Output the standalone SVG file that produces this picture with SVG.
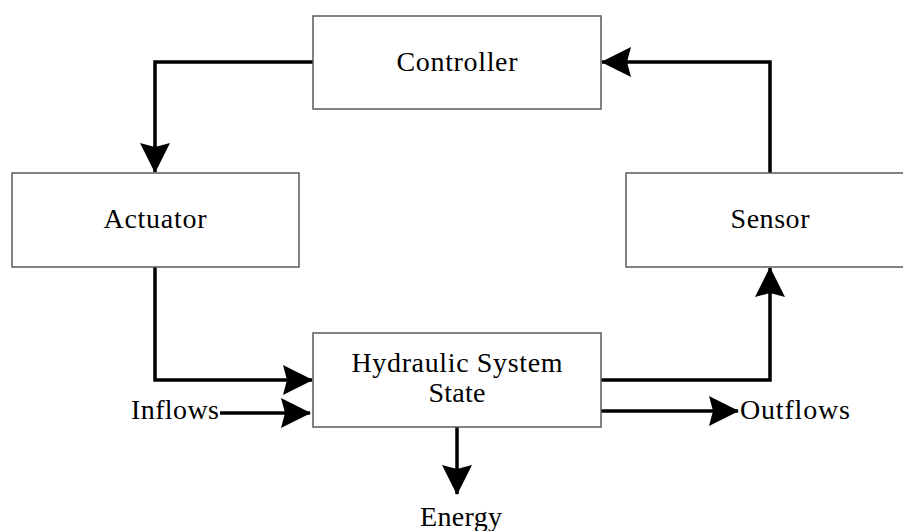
<svg xmlns="http://www.w3.org/2000/svg" width="903" height="531" viewBox="0 0 903 531">
  <style>
    .box { fill: #ffffff; stroke: #5a5a5a; stroke-width: 1.5; }
    .lbl { font-family: "Liberation Serif", "Times New Roman", serif; font-size: 28px; fill: #000; }
    .mid { text-anchor: middle; }
    .wire { fill: none; stroke: #000; stroke-width: 3.5; stroke-linejoin: miter; }
  </style>
  <defs>
    <marker id="head" viewBox="0 0 30 30" refX="29" refY="15" markerWidth="30" markerHeight="30" markerUnits="userSpaceOnUse" orient="auto">
      <path d="M0,0 L30,15 L0,30 L4,15 Z" fill="#000"/>
    </marker>
  </defs>
  <rect width="903" height="531" fill="#ffffff"/>

  <!-- feedback loop and flow connectors -->
  <g id="connectors">
    <path class="wire" d="M313,62 H155 V172" marker-end="url(#head)"/>
    <path class="wire" d="M155,267 V380 H312" marker-end="url(#head)"/>
    <path class="wire" d="M220,413 H310" marker-end="url(#head)"/>
    <path class="wire" d="M601,380 H770 V268" marker-end="url(#head)"/>
    <path class="wire" d="M770,173 V62 H602" marker-end="url(#head)"/>
    <path class="wire" d="M601,411 H738" marker-end="url(#head)"/>
    <path class="wire" d="M457,427 V494" marker-end="url(#head)"/>
  </g>

  <g id="controller">
    <rect class="box" x="313" y="16" width="288" height="93"/>
    <text class="lbl mid" x="457" y="71" textLength="121">Controller</text>
  </g>

  <g id="actuator">
    <rect class="box" x="12" y="173" width="287" height="94"/>
    <text class="lbl mid" x="155" y="228" textLength="103">Actuator</text>
  </g>

  <g id="sensor">
    <rect class="box" x="626" y="173" width="288" height="94"/>
    <text class="lbl mid" x="770" y="228" textLength="79">Sensor</text>
  </g>

  <g id="hydraulic-system-state">
    <rect class="box" x="313" y="333" width="288" height="94"/>
    <text class="lbl mid" x="457" y="372" textLength="211">Hydraulic System</text>
    <text class="lbl mid" x="457" y="402" textLength="57">State</text>
  </g>

  <g id="inflows">
    <text class="lbl" x="131" y="419" textLength="88">Inflows</text>
  </g>

  <g id="outflows">
    <text class="lbl" x="740" y="419" textLength="110">Outflows</text>
  </g>

  <g id="energy">
    <text class="lbl mid" x="461" y="526" textLength="82">Energy</text>
  </g>
</svg>
